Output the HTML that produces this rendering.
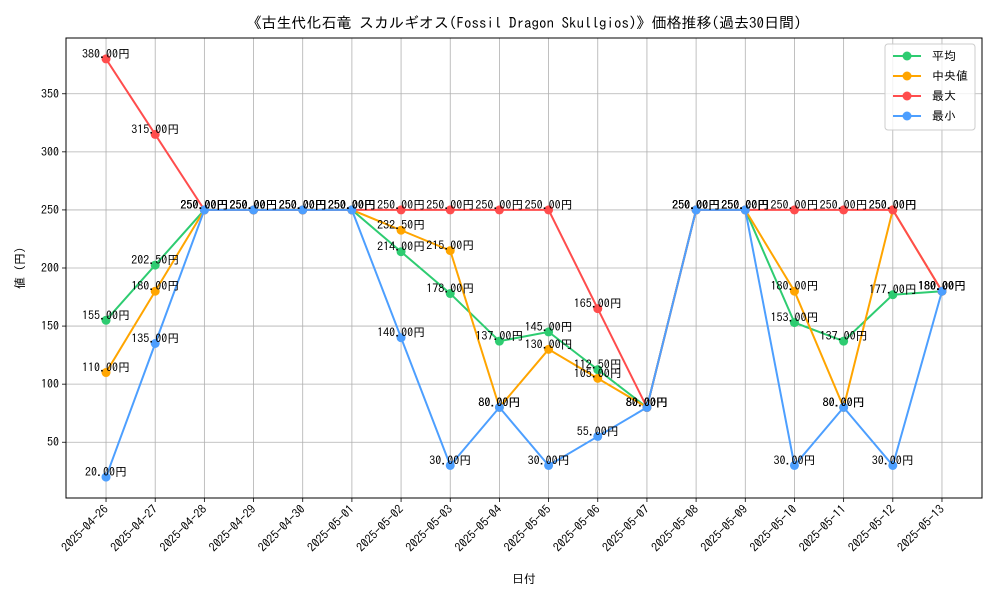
<!DOCTYPE html>
<html><head><meta charset="utf-8">
<style>
body{margin:0;background:#fff;font-family:"IPAGothic","Liberation Sans",sans-serif;}
svg text{font-family:"IPAGothic","Noto Sans CJK JP",sans-serif;}
</style></head>
<body>
<svg id="chart" width="1000" height="600" xmlns="http://www.w3.org/2000/svg"></svg>
<script>
const categories=["2025-04-26","2025-04-27","2025-04-28","2025-04-29","2025-04-30","2025-05-01","2025-05-02","2025-05-03","2025-05-04","2025-05-05","2025-05-06","2025-05-07","2025-05-08","2025-05-09","2025-05-10","2025-05-11","2025-05-12","2025-05-13"];
const avgValues=[155,202.5,250,250,250,250,214,178,137,145,112.5,80,250,250,153,137,177,180];
const medianValues=[110,180,250,250,250,250,232.5,215,80,130,105,80,250,250,180,80,250,180];
const maxValues=[380,315,250,250,250,250,250,250,250,250,165,80,250,250,250,250,250,180];
const minValues=[20,135,250,250,250,250,140,30,80,30,55,80,250,250,30,80,30,180];
const yTicks=[50,100,150,200,250,300,350];
const seriesNames=["平均","中央値","最大","最小"];
const svg=document.getElementById('chart');
const NS="http://www.w3.org/2000/svg";
const L=66,R=982,T=38,B=498;
const all=[...avgValues,...medianValues,...maxValues,...minValues];
const dmin=Math.min(...all),dmax=Math.max(...all),pad=(dmax-dmin)*0.05;
const y0=dmin-pad,y1=dmax+pad;
function x(i){const m=(R-L)*0.0437;return L+m+i*((R-L-2*m)/(categories.length-1));}
function y(v){return B-(v-y0)/(y1-y0)*(B-T);}
function el(tag,attrs,parent){const e=document.createElementNS(NS,tag);for(const k in attrs)e.setAttribute(k,attrs[k]);(parent||svg).appendChild(e);return e;}
const grid=el('g',{});


categories.forEach((c,i)=>{
  el('line',{x1:x(i),x2:x(i),y1:T,y2:B,stroke:'#b0b0b0','stroke-width':0.8},grid);
  el('line',{x1:x(i),x2:x(i),y1:B,y2:B+4,stroke:'#000','stroke-width':0.8},grid);
  const t=el('text',{x:0,y:0,'font-size':12,'text-anchor':'end',transform:`translate(${x(i)+3},${B+12}) rotate(-45)`});
  t.textContent=c;
  
  
});
yTicks.forEach(v=>{
  el('line',{x1:L,x2:R,y1:y(v),y2:y(v),stroke:'#b0b0b0','stroke-width':0.8},grid);
  el('line',{x1:L-4,x2:L,y1:y(v),y2:y(v),stroke:'#000','stroke-width':0.8},grid);
  const t=el('text',{x:L-7,y:y(v)+4,'font-size':12,'text-anchor':'end'});
  t.textContent=v;
  
  
});
const frame=el('rect',{x:L,y:T,width:R-L,height:B-T,fill:'none',stroke:'#000','stroke-width':1});


const colors=['#2ecc71','#ffa500','#ff4d4d','#4d9fff'];
const series=[avgValues,medianValues,maxValues,minValues];
const keys=['avg','median','max','min'];
series.forEach((vals,s)=>{
  const g=el('g',{});
  
  
  el('polyline',{points:vals.map((v,i)=>x(i)+','+y(v)).join(' '),fill:'none',stroke:colors[s],'stroke-width':2},g);
  vals.forEach((v,i)=>{
    const c=el('circle',{cx:x(i),cy:y(v),r:4.5,fill:colors[s]},g);
    
    
  });
});
series.forEach((vals,s)=>{
  vals.forEach((v,i)=>{
    const t=el('text',{x:x(i),y:y(v)-1,'font-size':12,'text-anchor':'middle'});
    t.textContent=v.toFixed(2)+'円';
    
    
  });
});
const title=el('text',{x:(L+R)/2,y:28,'font-size':15,'text-anchor':'middle'});
title.textContent='《古生代化石竜 スカルギオス(Fossil Dragon Skullgios)》価格推移(過去30日間)';


const xl=el('text',{x:(L+R)/2,y:583,'font-size':12,'text-anchor':'middle'});
xl.textContent='日付';


const yl=el('text',{x:0,y:0,'font-size':12,'text-anchor':'middle',transform:`translate(24,${(T+B)/2}) rotate(-90)`});
yl.textContent='値 (円)';


const lg=el('g',{});


el('rect',{x:885,y:44,width:90,height:86,rx:3,fill:'#fff','fill-opacity':0.8,stroke:'#ccc'},lg);
seriesNames.forEach((n,s)=>{
  const yy=56+s*20;
  const e=el('g',{},lg);
  
  
  el('line',{x1:893,x2:921,y1:yy,y2:yy,stroke:colors[s],'stroke-width':2},e);
  el('circle',{cx:907,cy:yy,r:4.5,fill:colors[s]},e);
  const t=el('text',{x:932,y:yy+4,'font-size':12},e);
  t.textContent=(s===1?' ':'')+n;
});
</script>
</body></html>
